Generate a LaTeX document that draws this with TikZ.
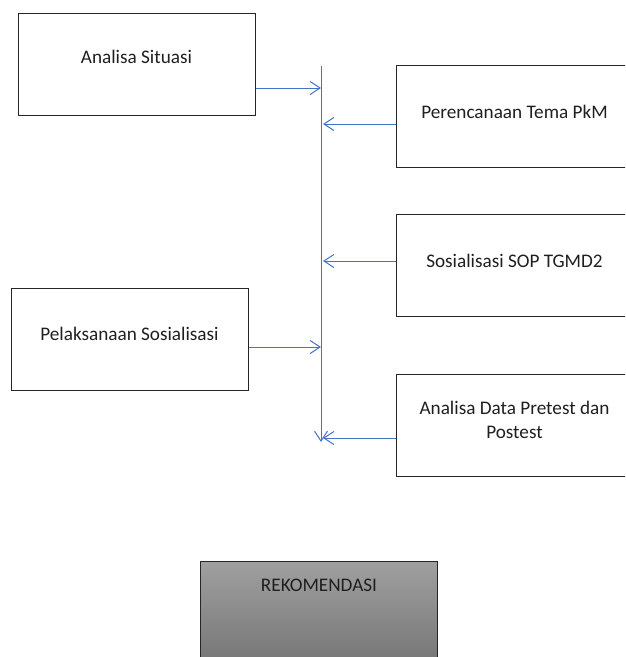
\documentclass[tikz,border=0pt]{standalone}
\usepackage{fontspec}
\setmainfont{Carlito}
\usetikzlibrary{arrows.meta}

\definecolor{garisbiru}{RGB}{68,114,196}
\definecolor{abuatas}{RGB}{160,160,160}
\definecolor{abubawah}{RGB}{118,118,118}

\tikzset{
	kotak/.style={draw=black!85, line width=1pt, minimum width=237pt, minimum height=102pt,
		inner sep=0pt, text height=13pt, text depth=#1, align=center},
	panah/.style={draw=garisbiru, line width=1pt, -{Straight Barb[length=10pt,width=13pt]}},
}

\begin{document}
\begin{tikzpicture}[x=1pt,y=-1pt,font=\fontsize{19.2pt}{24pt}\selectfont,text=black!88]
	\clip (0,0) rectangle (625,657);

	% Kotak kiri
	\node[kotak=15pt] (situasi) at (136.5,64) {Analisa Situasi};
	\node[kotak=12pt] (pelaksanaan) at (129.5,339.5) {Pelaksanaan Sosialisasi};

	% Kotak kanan
	\node[kotak=10pt] (tema) at (514.5,116.5) {Perencanaan Tema PkM};
	\node[kotak=10pt] (sop) at (514.5,265.5) {Sosialisasi SOP TGMD2};
	\node[kotak=12pt, text height=37pt] (data) at (514.5,425.5) {Analisa Data Pretest dan\\Postest};

	% Rekomendasi
	\node[kotak=55pt, top color=abuatas, bottom color=abubawah] (rekom) at (319,612) {REKOMENDASI};

	% Garis tengah
	\coordinate (atas) at (321,66);
	\coordinate (bawah) at (321,442);
	\coordinate (a1) at (321,88);
	\coordinate (a2) at (323,124);
	\coordinate (a3) at (323,261);
	\coordinate (a4) at (321,347);
	\coordinate (a5) at (323,438);

	\draw[panah] (atas) -- (bawah);
	\foreach \n/\c in {situasi/a1,pelaksanaan/a4} {
		\draw[panah] (\n.east |- \c) -- (\c);
	}
	\foreach \n/\c in {tema/a2,sop/a3,data/a5} {
		\draw[panah] (\n.west |- \c) -- (\c);
	}
\end{tikzpicture}
\end{document}
